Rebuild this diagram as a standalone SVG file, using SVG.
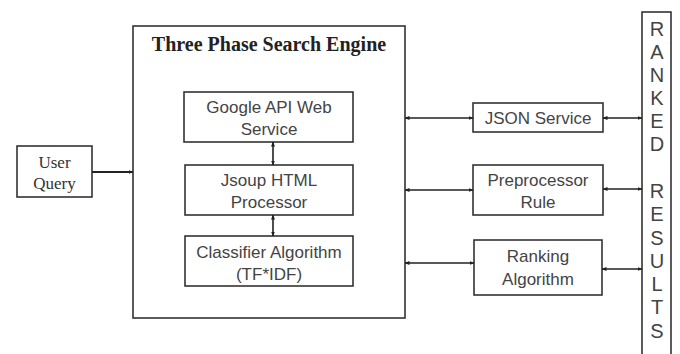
<svg xmlns="http://www.w3.org/2000/svg" width="680" height="354" viewBox="0 0 680 354">
  <defs>
    <marker id="ah" viewBox="0 0 10 10" refX="9" refY="5" markerWidth="5" markerHeight="5" orient="auto-start-reverse" markerUnits="userSpaceOnUse">
      <path d="M0,1 L10,5 L0,9 Z" fill="#222"/>
    </marker>
    <style>
      .box { fill: #fff; stroke: #333; stroke-width: 1.6; }
      .sans { font-family: "Liberation Sans", Arial, sans-serif; font-size: 17px; fill: #444; text-anchor: middle; }
      .serif { font-family: "Liberation Serif", "Times New Roman", serif; font-size: 17px; fill: #333; text-anchor: middle; }
      .title { font-family: "Liberation Serif", "Times New Roman", serif; font-size: 20px; font-weight: bold; fill: #222; text-anchor: middle; }
      .col { font-family: "Liberation Sans", Arial, sans-serif; font-size: 20px; fill: #444; text-anchor: middle; }
      .link { stroke: #222; stroke-width: 1.6; fill: none; marker-start: url(#ah); marker-end: url(#ah); }
      .plain { stroke: #222; stroke-width: 1.8; fill: none; marker-end: url(#ah); }
    </style>
  </defs>
  <rect width="680" height="354" fill="#fff"/>

  <g id="user-query">
    <rect class="box" x="17" y="146" width="75" height="51"/>
    <text class="serif" x="54.5" y="168">User</text>
    <text class="serif" x="54.5" y="189">Query</text>
  </g>

  <g id="search-engine">
    <rect class="box" x="133" y="26" width="272" height="292"/>
    <text class="title" x="269" y="51">Three Phase Search Engine</text>
  </g>

  <g id="google-api">
    <rect class="box" x="184" y="92" width="169" height="50"/>
    <text class="sans" x="269" y="113">Google API Web</text>
    <text class="sans" x="269" y="135">Service</text>
  </g>

  <g id="jsoup">
    <rect class="box" x="185" y="165" width="168" height="50"/>
    <text class="sans" x="269" y="186">Jsoup HTML</text>
    <text class="sans" x="269" y="208">Processor</text>
  </g>

  <g id="classifier">
    <rect class="box" x="185" y="236" width="168" height="50"/>
    <text class="sans" x="269" y="258">Classifier Algorithm</text>
    <text class="sans" x="269" y="280">(TF*IDF)</text>
  </g>

  <g id="json-service">
    <rect class="box" x="473" y="103" width="130" height="29"/>
    <text class="sans" x="538" y="124">JSON Service</text>
  </g>

  <g id="preprocessor">
    <rect class="box" x="473" y="165" width="130" height="50"/>
    <text class="sans" x="538" y="186">Preprocessor</text>
    <text class="sans" x="538" y="208">Rule</text>
  </g>

  <g id="ranking">
    <rect class="box" x="474" y="240" width="128" height="55"/>
    <text class="sans" x="538" y="262">Ranking</text>
    <text class="sans" x="538" y="285">Algorithm</text>
  </g>

  <g id="ranked-results">
    <rect class="box" x="642" y="12" width="29" height="350"/>
    <text class="col" x="657" y="36">R</text>
    <text class="col" x="657" y="59">A</text>
    <text class="col" x="657" y="82">N</text>
    <text class="col" x="657" y="105">K</text>
    <text class="col" x="657" y="128">E</text>
    <text class="col" x="657" y="151">D</text>
    <text class="col" x="657" y="198">R</text>
    <text class="col" x="657" y="221">E</text>
    <text class="col" x="657" y="245">S</text>
    <text class="col" x="657" y="268">U</text>
    <text class="col" x="657" y="291">L</text>
    <text class="col" x="657" y="314">T</text>
    <text class="col" x="657" y="338">S</text>
  </g>

  <g id="connectors">
    <line class="plain" x1="92" y1="172" x2="133" y2="172"/>
    <line class="link" x1="273" y1="142" x2="273" y2="165"/>
    <line class="link" x1="273" y1="215" x2="273" y2="236"/>
    <line class="link" x1="405" y1="118" x2="473" y2="118"/>
    <line class="link" x1="405" y1="190" x2="473" y2="190"/>
    <line class="link" x1="405" y1="263" x2="474" y2="263"/>
    <line class="link" x1="603" y1="118" x2="642" y2="118"/>
    <line class="link" x1="603" y1="189" x2="642" y2="189" stroke-width="3"/>
    <line class="link" x1="602" y1="269" x2="642" y2="269"/>
  </g>
</svg>
